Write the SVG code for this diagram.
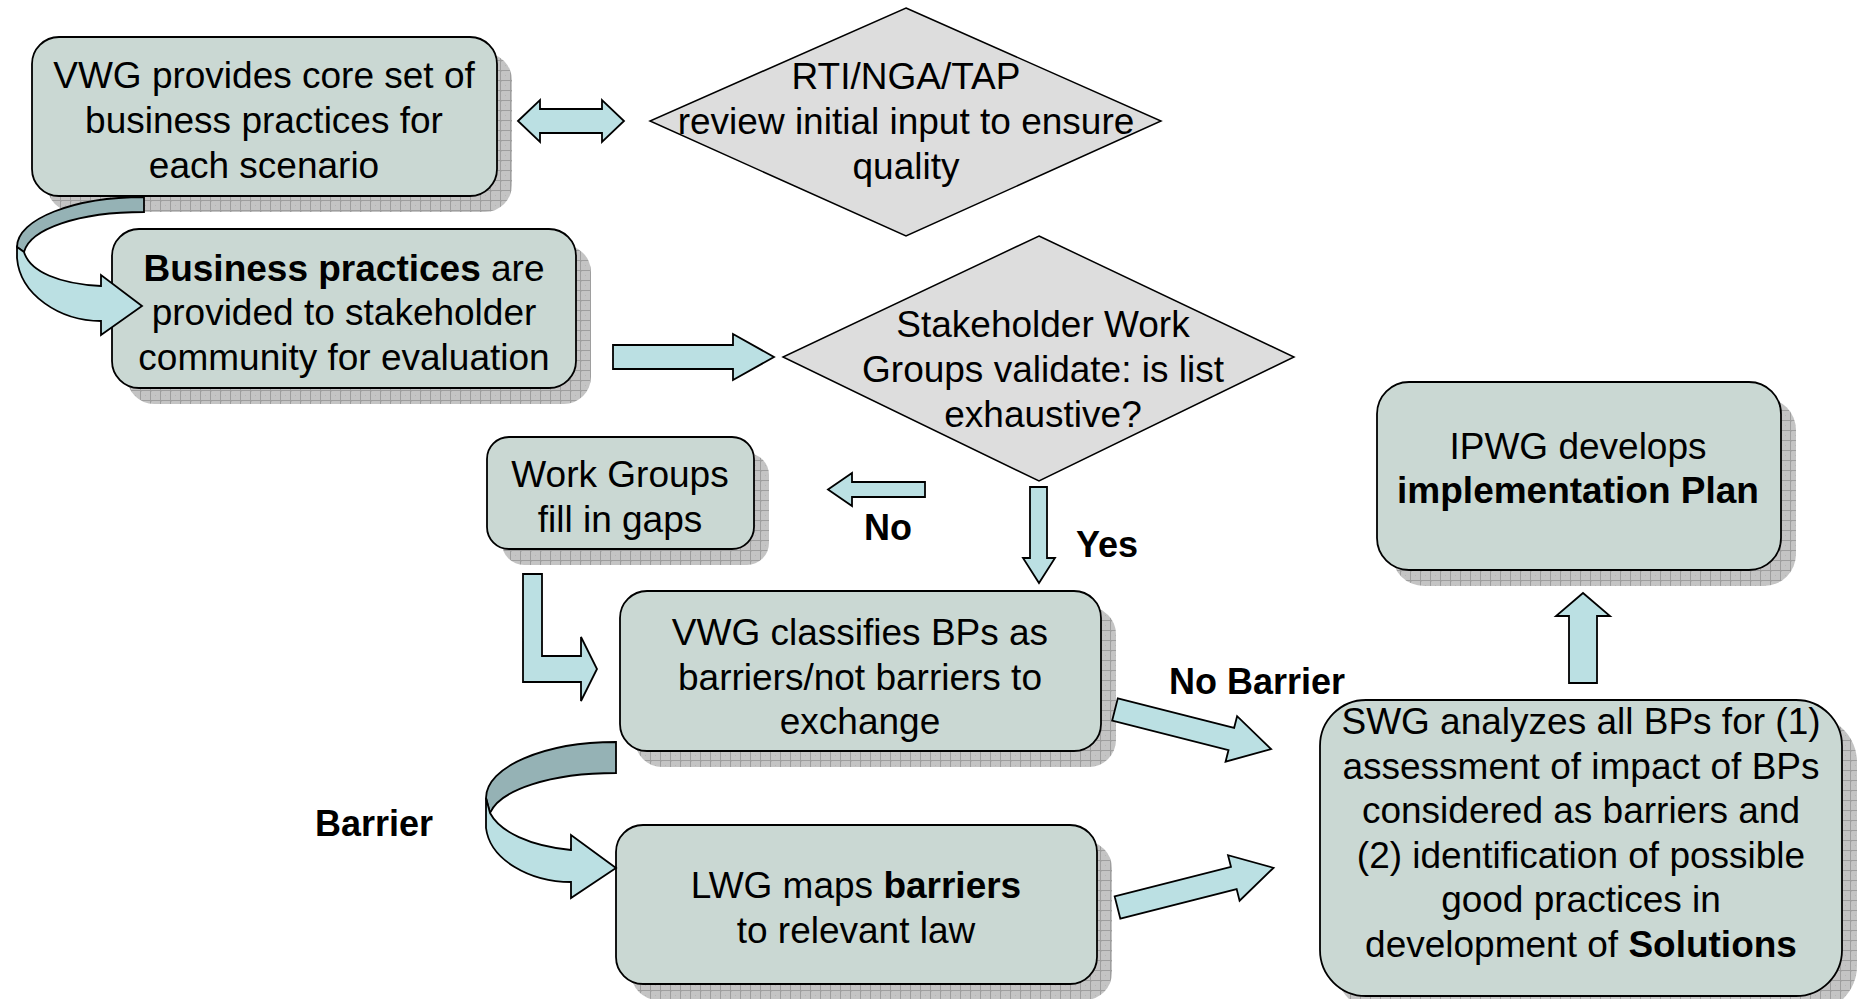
<svg xmlns="http://www.w3.org/2000/svg" width="1862" height="999" viewBox="0 0 1862 999">
  <defs>
    <pattern id="grid" width="10" height="10" patternUnits="userSpaceOnUse">
      <rect width="10" height="10" fill="#c4c4c4"/>
      <rect x="1" y="1" width="1" height="1" fill="#b4b4b4"/>
      <rect x="5" y="5" width="1" height="1" fill="#b4b4b4"/>
      <path d="M0 0.5H10M0.5 0V10" stroke="#9e9e9e" stroke-width="1"/>
    </pattern>
    <style>
      .shadow { fill: url(#grid); stroke: none; }
      .box { fill: #cad8d3; stroke: #000; stroke-width: 1.8; }
      .dia { fill: #dddddd; stroke: #000; stroke-width: 1.5; }
      .arrow { fill: #bbe0e3; stroke: #000; stroke-width: 1.8; stroke-linejoin: miter; }
      .back { fill: #95b2b5; stroke: #000; stroke-width: 1.8; }
      text { font-family: "Liberation Sans", Arial, sans-serif; font-size: 37px; fill: #000; text-anchor: middle; }
      .lbl { font-weight: bold; font-size: 36px; }
      .b { font-weight: bold; }
    </style>
  </defs>

  <!-- VWG provides core set -->
  <g id="vwg-core">
    <rect class="shadow" x="47" y="53" width="465" height="159" rx="27"/>
    <rect class="box" x="32" y="37" width="465" height="159" rx="27"/>
    <text x="264" y="88">VWG provides core set of</text>
    <text x="264" y="133">business practices for</text>
    <text x="264" y="178">each scenario</text>
  </g>

  <!-- RTI/NGA/TAP review -->
  <g id="rti-review">
    <polygon class="dia" points="906,8 1161,121 906,236 650,121"/>
    <text x="906" y="89">RTI/NGA/TAP</text>
    <text x="906" y="134">review initial input to ensure</text>
    <text x="906" y="179">quality</text>
  </g>

  <!-- Business practices provided -->
  <g id="bp-provided">
    <rect class="shadow" x="127" y="245" width="464" height="159" rx="27"/>
    <rect class="box" x="112" y="229" width="464" height="159" rx="27"/>
    <text x="344" y="281"><tspan class="b">Business practices</tspan> are</text>
    <text x="344" y="325">provided to stakeholder</text>
    <text x="344" y="370">community for evaluation</text>
  </g>

  <!-- Stakeholder validation -->
  <g id="stakeholder-validate">
    <polygon class="dia" points="1039,236 1294,357 1039,481 783,357"/>
    <text x="1043" y="337">Stakeholder Work</text>
    <text x="1043" y="382">Groups validate: is list</text>
    <text x="1043" y="427">exhaustive?</text>
  </g>

  <!-- Work Groups fill in gaps -->
  <g id="fill-gaps">
    <rect class="shadow" x="502" y="453" width="267" height="112" rx="22"/>
    <rect class="box" x="487" y="437" width="267" height="112" rx="22"/>
    <text x="620" y="487">Work Groups</text>
    <text x="620" y="532">fill in gaps</text>
  </g>

  <!-- VWG classifies -->
  <g id="vwg-classify">
    <rect class="shadow" x="635" y="607" width="481" height="160" rx="27"/>
    <rect class="box" x="620" y="591" width="481" height="160" rx="27"/>
    <text x="860" y="645">VWG classifies BPs as</text>
    <text x="860" y="690">barriers/not barriers to</text>
    <text x="860" y="734">exchange</text>
  </g>

  <!-- LWG maps barriers -->
  <g id="lwg-map">
    <rect class="shadow" x="631" y="841" width="481" height="159" rx="27"/>
    <rect class="box" x="616" y="825" width="481" height="159" rx="27"/>
    <text x="856" y="898">LWG maps <tspan class="b">barriers</tspan></text>
    <text x="856" y="943">to relevant law</text>
  </g>

  <!-- IPWG implementation plan -->
  <g id="ipwg-plan">
    <rect class="shadow" x="1392" y="398" width="404" height="188" rx="32"/>
    <rect class="box" x="1377" y="382" width="404" height="188" rx="32"/>
    <text x="1578" y="459">IPWG develops</text>
    <text x="1578" y="503" class="b">implementation Plan</text>
  </g>

  <!-- SWG analyzes -->
  <g id="swg-analyze">
    <rect class="shadow" x="1335" y="716" width="522" height="296" rx="46"/>
    <rect class="box" x="1320" y="700" width="522" height="296" rx="46"/>
    <text x="1581" y="734">SWG analyzes all BPs for (1)</text>
    <text x="1581" y="779">assessment of impact of BPs</text>
    <text x="1581" y="823">considered as barriers and</text>
    <text x="1581" y="868">(2) identification of possible</text>
    <text x="1581" y="912">good practices in</text>
    <text x="1581" y="957">development of <tspan class="b">Solutions</tspan></text>
  </g>

  <!-- Connectors -->
  <g id="connectors">
    <!-- two-way exchange -->
    <polygon class="arrow" points="518,121 540,100 540,109 602,109 602,100 624,121 602,142 602,133 540,133 540,142"/>

    <!-- curved arrow: core set -> provided -->
    <path class="back" d="M144,197 L144,212 C78,212 30,229 24,252 L17,247 C17,219 74,197 144,197 Z"/>
    <path class="arrow" d="M17,247 L17,258 C20,295 60,321 101,321 L101,335 L142,306 L101,275 L101,286 C60,284 30,272 24,252 Z"/>

    <!-- provided -> validate -->
    <polygon class="arrow" points="613,345 733,345 733,334 774,357 733,380 733,369 613,369"/>

    <!-- No -->
    <polygon class="arrow" points="828,489.5 852,473 852,482 925,482 925,497 852,497 852,506"/>

    <!-- Yes -->
    <polygon class="arrow" points="1030,487 1047,487 1047,558 1055,558 1039,583 1023,558 1030,558"/>

    <!-- fill gaps -> classify -->
    <polygon class="arrow" points="523,574 542,574 542,656 581,656 581,637 597,669 581,701 581,682 523,682"/>

    <!-- curved arrow: classify -> LWG (Barrier) -->
    <path class="back" d="M616,742 L616,773 C550,773 500,790 490,813 L486,798 C486,767 544,742 616,742 Z"/>
    <path class="arrow" d="M486,798 L486,828 C490,860 530,882 571,882 L571,898 L616,868 L571,835 L571,850 C530,846 500,832 490,813 Z"/>

    <!-- No Barrier -> SWG -->
    <polygon class="arrow" transform="translate(1115,709.5) rotate(14.2)" points="0,-11.5 120,-11.5 120,-23.5 161,0 120,23.5 120,11.5 0,11.5"/>

    <!-- LWG -> SWG -->
    <polygon class="arrow" transform="translate(1117.5,907.5) rotate(-14.25)" points="0,-11.5 120,-11.5 120,-23.5 161,0 120,23.5 120,11.5 0,11.5"/>

    <!-- SWG -> IPWG -->
    <polygon class="arrow" points="1583,593 1610,616 1597,616 1597,683 1569,683 1569,616 1556,616"/>

    <text class="lbl" x="888" y="540">No</text>
    <text class="lbl" x="1107" y="557">Yes</text>
    <text class="lbl" x="1257" y="694">No Barrier</text>
    <text class="lbl" x="374" y="836">Barrier</text>
  </g>
</svg>
